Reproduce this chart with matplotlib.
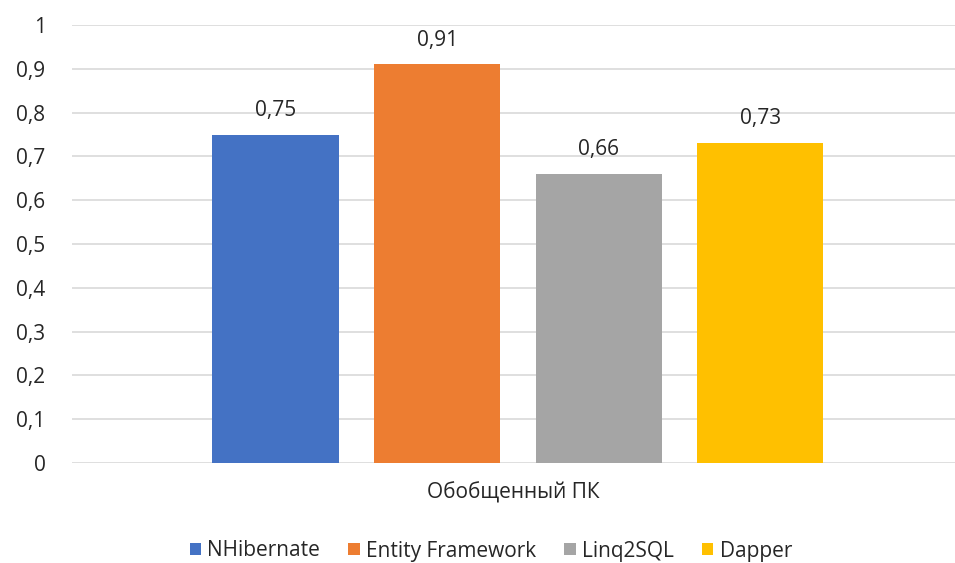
import matplotlib
matplotlib.use("Agg")
import matplotlib.pyplot as plt
from matplotlib.patches import Patch

plt.rcParams['font.family'] = ['Open Sans', 'DejaVu Sans']

category = "Обобщенный ПК"
series = ["NHibernate", "Entity Framework", "Linq2SQL", "Dapper"]
values = [0.75, 0.91, 0.66, 0.73]
colors = ["#4472C4", "#ED7D31", "#A5A5A5", "#FFC000"]
yticks = [0, 0.1, 0.2, 0.3, 0.4, 0.5, 0.6, 0.7, 0.8, 0.9, 1.0]


def fmt(v):
    s = f"{v:.2f}".rstrip("0").rstrip(".")
    return s.replace(".", ",")


FS = 15
TXT = "#262626"

fig = plt.figure(figsize=(9.55, 5.63), dpi=100)
ax = fig.add_axes([72 / 955, 1 - 463 / 563, 883 / 955, (463 - 25) / 563])

step = 0.183
width = 0.143
n = len(series)
for i, (name, v, c) in enumerate(zip(series, values, colors)):
    x = (i - (n - 1) / 2) * step + 0.005
    bars = ax.bar(x, v, width=width, color=c, zorder=3)
    ax.bar_label(bars, labels=[fmt(v)], padding=10, fontsize=FS, color=TXT)

ax.set_xlim(-0.5, 0.5)
ax.set_ylim(0, 1)
ax.set_yticks(yticks)
ax.set_yticklabels([fmt(t) for t in yticks], fontsize=FS, color=TXT)
ax.yaxis.grid(True, color="#d9d9d9", linewidth=1.2, zorder=0)
ax.tick_params(axis="y", length=0, pad=19)
ax.set_xticks([0])
ax.set_xticklabels([category], fontsize=FS, color=TXT)
ax.tick_params(axis="x", length=0, pad=14)
for s in ax.spines.values():
    s.set_visible(False)

handles = [Patch(facecolor=c, label=s) for s, c in zip(series, colors)]
fig.legend(handles=handles, loc="center", bbox_to_anchor=(0.514, 1 - 551 / 563),
           ncol=4, frameon=False, fontsize=FS, handlelength=0.55, handleheight=0.55,
           handletextpad=0.3, columnspacing=1.35, labelcolor=TXT)

fig.savefig("out.png", dpi=100, facecolor="white")
